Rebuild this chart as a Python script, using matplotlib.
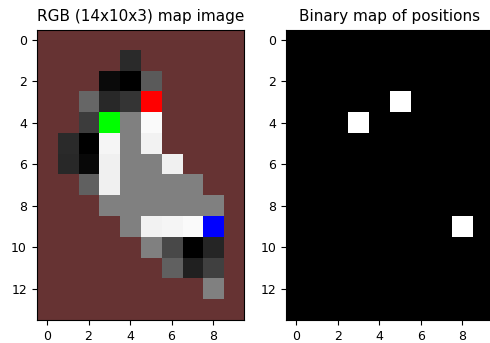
import numpy as np
import matplotlib
matplotlib.use("Agg")
import matplotlib.pyplot as plt

# Grey level of each sprite pixel (0-255); -1 marks background.
n_rows, n_cols = 14, 10
gray_levels = [
    [-1, -1, -1, -1, -1, -1, -1, -1, -1, -1],
    [-1, -1, -1, -1, 42, -1, -1, -1, -1, -1],
    [-1, -1, -1, 10, 0, 90, -1, -1, -1, -1],
    [-1, -1, 102, 40, 52, -1, -1, -1, -1, -1],
    [-1, -1, 60, -1, 128, 250, -1, -1, -1, -1],
    [-1, 42, 0, 245, 128, 242, -1, -1, -1, -1],
    [-1, 40, 8, 240, 128, 128, 240, -1, -1, -1],
    [-1, -1, 96, 240, 128, 128, 128, 128, -1, -1],
    [-1, -1, -1, 128, 128, 128, 128, 128, 128, -1],
    [-1, -1, -1, -1, 128, 242, 245, 250, -1, -1],
    [-1, -1, -1, -1, -1, 128, 72, 0, 37, -1],
    [-1, -1, -1, -1, -1, -1, 96, 32, 64, -1],
    [-1, -1, -1, -1, -1, -1, -1, -1, 128, -1],
    [-1, -1, -1, -1, -1, -1, -1, -1, -1, -1],
]
background_rgb = (102, 51, 51)

# Marked positions (row, col) and their colours.
marker_rows = [3, 4, 9]
marker_cols = [5, 3, 8]
marker_rgb = [(255, 0, 0), (0, 255, 0), (0, 0, 255)]

gray = np.array(gray_levels)
rgb = np.zeros((n_rows, n_cols, 3), dtype=np.uint8)
rgb[:] = background_rgb
mask = gray >= 0
rgb[mask] = np.repeat(gray[mask][:, None], 3, axis=1)
binary = np.zeros((n_rows, n_cols))
for r, c, col in zip(marker_rows, marker_cols, marker_rgb):
    rgb[r, c] = col
    binary[r, c] = 1

fig = plt.figure(figsize=(4.9, 3.43), dpi=100)
ax1 = fig.add_axes([36.7 / 490, (343 - 320.5) / 343, 207.4 / 490, 291.5 / 343])
ax2 = fig.add_axes([286.0 / 490, (343 - 320.5) / 343, 207.4 / 490, 291.5 / 343])

ax1.imshow(rgb)
ax1.set_title("RGB (14x10x3) map image", fontsize=11)
ax2.imshow(binary, cmap="gray", vmin=0, vmax=1)
ax2.set_title("Binary map of positions", fontsize=11)

for ax in (ax1, ax2):
    ax.set_xticks([0, 2, 4, 6, 8])
    ax.set_yticks([0, 2, 4, 6, 8, 10, 12])
    ax.tick_params(labelsize=9)

fig.savefig("out.png", dpi=100)
